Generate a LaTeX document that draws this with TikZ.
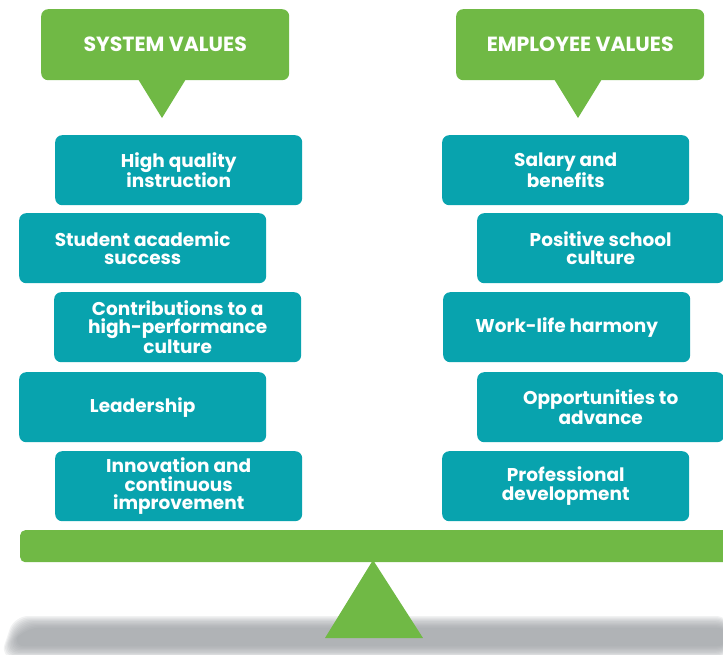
\documentclass[tikz,border=0pt]{standalone}
\usepackage{fontspec}
\setmainfont{Poppins}
\definecolor{tealbox}{RGB}{8,163,174}
\definecolor{greenv}{RGB}{112,185,69}
\definecolor{shadowg}{RGB}{150,154,158}
\tikzset{
  valbox/.style={fill=tealbox, rounded corners=7pt, minimum width=247pt, minimum height=70pt, inner sep=0pt,
    text=white, font=\bfseries\fontsize{18.5}{18.5}\selectfont, align=center, anchor=north west},
  headbox/.style={fill=greenv, rounded corners=7pt, minimum width=248pt, minimum height=71pt, inner sep=0pt,
    text=white, font=\bfseries\fontsize{20.5}{22}\selectfont, anchor=north west},
}
\begin{document}
\begin{tikzpicture}[x=1pt,y=-1pt]
\useasboundingbox (0,0) rectangle (723,654);
% shadow
\foreach \i in {0,...,9}{
  \fill[shadowg, opacity=0.13, rounded corners=14pt]
    ({14+1.2*\i},{616+1.3*\i}) -- ({730},{616+1.3*\i}) -- (730,{658-1.3*\i}) -- ({0+1.2*\i},{658-1.3*\i}) -- cycle;
}
% headers
\node[headbox] (sys) at (41,9) {SYSTEM VALUES};
\coordinate (sysl) at (138,79);
\coordinate (sysr) at (186,79);
\coordinate (syst) at (162,118);
\fill[greenv] (sysl) -- (syst) -- (sysr) -- cycle;
\node[headbox] (emp) at (456,9) {EMPLOYEE VALUES};
\coordinate (empl) at (554,79);
\coordinate (empr) at (602,79);
\coordinate (empt) at (578,118);
\fill[greenv] (empl) -- (empt) -- (empr) -- cycle;
% left boxes
\node[valbox] (l1) at (55,135) {High quality\\instruction};
\node[valbox] (l2) at (19,213) {Student academic\\success};
\node[valbox] (l3) at (54,292) {Contributions to a\\high-performance\\culture};
\node[valbox] (l4) at (19,372) {Leadership};
\node[valbox] (l5) at (55,451) {Innovation and\\continuous\\improvement};
% right boxes
\node[valbox] (r1) at (442,135) {Salary and\\benefits};
\node[valbox] (r2) at (477,213) {Positive school\\culture};
\node[valbox] (r3) at (443,292) {Work-life harmony};
\node[valbox] (r4) at (477,372) {Opportunities to\\advance};
\node[valbox] (r5) at (442,451) {Professional\\development};
% beam and fulcrum
\node[fill=greenv, rounded corners=5pt, minimum width=710pt, minimum height=32pt, inner sep=0pt, anchor=north west] (beam) at (20,530) {};
\coordinate (fa) at (373,560);
\coordinate (fl) at (325,638);
\coordinate (fr) at (423,638);
\fill[greenv] (fl) -- (fa) -- (fr) -- cycle;
\end{tikzpicture}
\end{document}
